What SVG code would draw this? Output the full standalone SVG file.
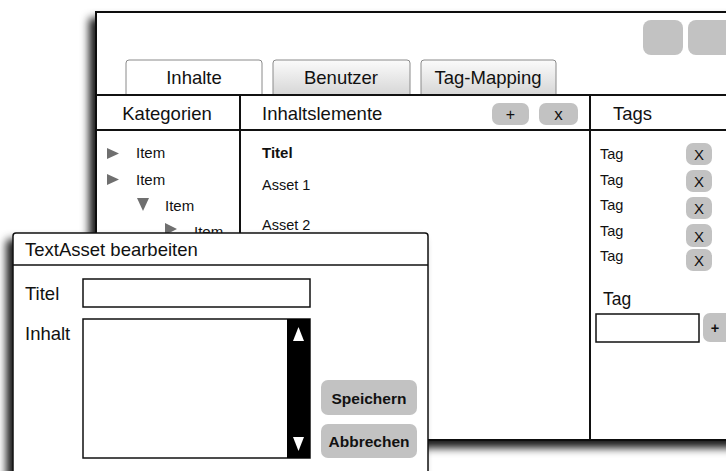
<svg xmlns="http://www.w3.org/2000/svg" width="726" height="471" viewBox="0 0 726 471">
  <defs>
    <filter id="shadow" x="-10%" y="-10%" width="120%" height="130%">
      <feDropShadow dx="-6" dy="7" stdDeviation="4" flood-color="#000" flood-opacity="0.9"/>
    </filter>
    <linearGradient id="tabGrad" x1="0" y1="0" x2="0" y2="1">
      <stop offset="0" stop-color="#fbfbfb"/>
      <stop offset="1" stop-color="#d6d6d6"/>
    </linearGradient>
  </defs>
  <style>
    text { font-family: "Liberation Sans", Arial, sans-serif; fill: #111; }
    .hd { font-size: 18.5px; }
    .item { font-size: 15px; }
    .sm { font-size: 14.5px; }
    .bold { font-weight: bold; }
    .frame { fill: #fff; stroke: #111; stroke-width: 2; }
    .rule { stroke: #111; stroke-width: 2; fill: none; }
    .btn { fill: #c2c2c2; }
    .tri { fill: #6f6f6f; }
    .field { fill: #fff; stroke: #111; stroke-width: 1.5; }
  </style>

  <!-- main window -->
  <g id="main-window">
    <rect class="frame" x="96" y="12" width="650" height="428" filter="url(#shadow)"/>
    <rect class="btn" x="643" y="20" width="40" height="35" rx="8"/>
    <rect class="btn" x="688" y="20" width="45" height="35" rx="8"/>
  </g>

  <!-- tabs -->
  <g id="tab-inhalte">
    <path d="M126 95 V63 Q126 60 129 60 H259 Q262 60 262 63 V95" fill="#fff" stroke="#8a8a8a" stroke-width="1"/>
    <text class="hd" x="194" y="84" text-anchor="middle">Inhalte</text>
  </g>
  <g id="tab-benutzer">
    <path d="M273 95 V63 Q273 60 276 60 H407 Q410 60 410 63 V95" fill="url(#tabGrad)" stroke="#8a8a8a" stroke-width="1"/>
    <text class="hd" x="341" y="84" text-anchor="middle">Benutzer</text>
  </g>
  <g id="tab-tag-mapping">
    <path d="M421 95 V63 Q421 60 424 60 H553 Q556 60 556 63 V95" fill="url(#tabGrad)" stroke="#8a8a8a" stroke-width="1"/>
    <text class="hd" x="488" y="84" text-anchor="middle">Tag-Mapping</text>
  </g>

  <!-- panel grid -->
  <g id="grid">
    <line class="rule" x1="96" y1="95" x2="726" y2="95"/>
    <line class="rule" x1="96" y1="130" x2="726" y2="130"/>
    <line class="rule" x1="240" y1="95" x2="240" y2="440"/>
    <line class="rule" x1="590" y1="95" x2="590" y2="440"/>
  </g>

  <!-- Kategorien column -->
  <g id="kategorien">
    <text class="hd" x="167" y="120" text-anchor="middle">Kategorien</text>
    <polygon class="tri" points="107,148 119,153.5 107,159"/>
    <text class="item" x="136" y="158">Item</text>
    <polygon class="tri" points="107,174 119,179.5 107,185"/>
    <text class="item" x="136" y="185">Item</text>
    <polygon class="tri" points="137,198 149,198 143,211"/>
    <text class="item" x="165" y="211">Item</text>
    <polygon class="tri" points="165,223 177,229 165,235"/>
    <text class="item" x="194" y="237">Item</text>
  </g>

  <!-- Inhaltselemente column -->
  <g id="inhaltselemente">
    <text class="hd" x="262" y="120">Inhaltslemente</text>
    <rect class="btn" x="492" y="103" width="37" height="22" rx="7"/>
    <text x="510.5" y="120" text-anchor="middle" font-size="16">+</text>
    <rect class="btn" x="539" y="103" width="39" height="22" rx="7"/>
    <text x="558.5" y="120" text-anchor="middle" font-size="17">x</text>
    <text class="item bold" x="262" y="158">Titel</text>
    <text class="sm" x="262" y="190">Asset 1</text>
    <text class="sm" x="262" y="230">Asset 2</text>
  </g>

  <!-- Tags column -->
  <g id="tags">
    <text class="hd" x="613" y="120">Tags</text>
    <text class="sm" x="600" y="159">Tag</text>
    <rect class="btn" x="686" y="143" width="26" height="22" rx="7"/>
    <text x="699" y="160" text-anchor="middle" font-size="15">X</text>
    <text class="sm" x="600" y="185">Tag</text>
    <rect class="btn" x="686" y="170" width="26" height="22" rx="7"/>
    <text x="699" y="187" text-anchor="middle" font-size="15">X</text>
    <text class="sm" x="600" y="210">Tag</text>
    <rect class="btn" x="686" y="197" width="26" height="22" rx="7"/>
    <text x="699" y="214" text-anchor="middle" font-size="15">X</text>
    <text class="sm" x="600" y="236">Tag</text>
    <rect class="btn" x="686" y="224" width="26" height="23" rx="7"/>
    <text x="699" y="242" text-anchor="middle" font-size="15">X</text>
    <text class="sm" x="600" y="261">Tag</text>
    <rect class="btn" x="686" y="249" width="26" height="22" rx="7"/>
    <text x="699" y="266" text-anchor="middle" font-size="15">X</text>
    <text x="603" y="305" font-size="17.5">Tag</text>
    <rect class="field" x="596" y="314" width="103" height="28"/>
    <rect class="btn" x="703" y="313" width="30" height="29" rx="7"/>
    <text class="sm bold" x="715" y="333" text-anchor="middle">+</text>
  </g>

  <!-- edit dialog -->
  <g id="dialog">
    <path d="M13 490 V236 Q13 233 16 233 H425 Q428 233 428 236 V490 Z" fill="#fff" stroke="#111" stroke-width="1.5" filter="url(#shadow)"/>
    <line x1="13" y1="265" x2="428" y2="265" stroke="#111" stroke-width="1.5"/>
    <text class="hd" x="25" y="256">TextAsset bearbeiten</text>
    <text class="hd" x="25" y="300">Titel</text>
    <rect class="field" x="83" y="279" width="227" height="28"/>
    <text class="hd" x="25" y="340">Inhalt</text>
    <rect class="field" x="83" y="319" width="227" height="139"/>
    <rect x="287" y="319" width="23" height="139" fill="#000"/>
    <polygon points="298.5,327 304,341 293,341" fill="#fff"/>
    <polygon points="293,437 304,437 298.5,451" fill="#fff"/>
    <rect class="btn" x="321" y="380" width="96" height="35" rx="7"/>
    <text class="bold" x="369" y="404" text-anchor="middle" font-size="15.5">Speichern</text>
    <rect class="btn" x="321" y="424" width="96" height="34" rx="7"/>
    <text class="bold" x="369" y="447" text-anchor="middle" font-size="15.5">Abbrechen</text>
  </g>
</svg>
